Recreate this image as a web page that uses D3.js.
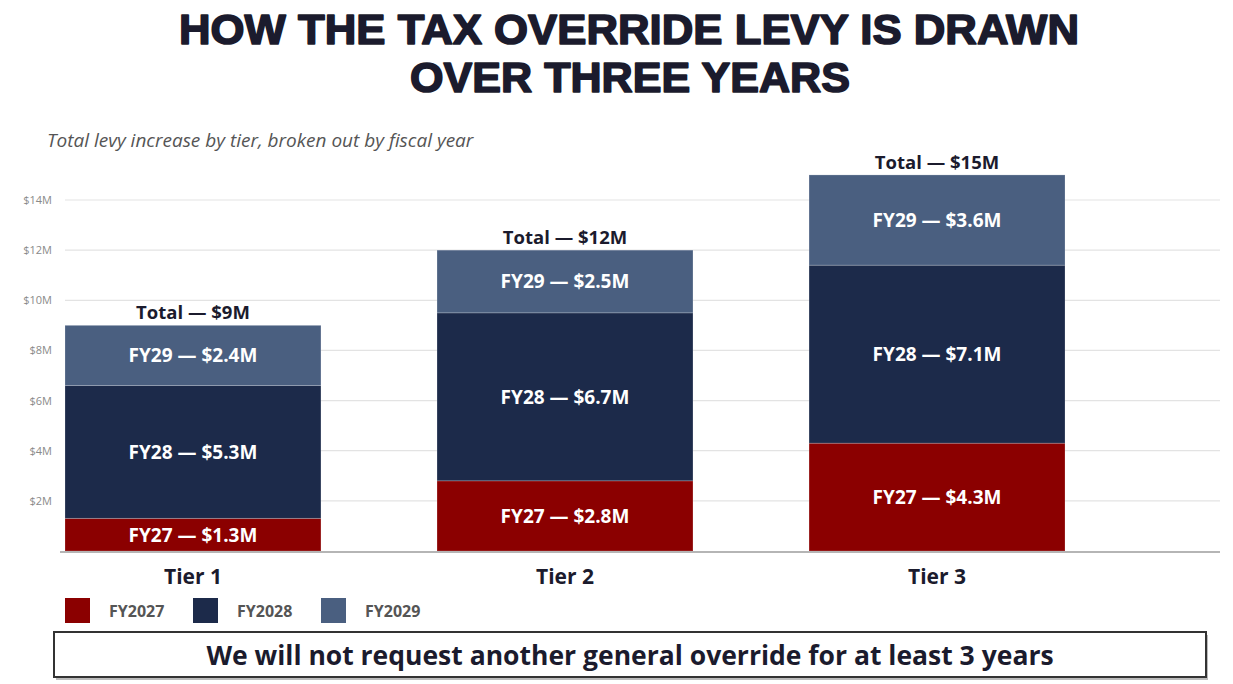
<!DOCTYPE html>
<html>
<head>
<meta charset="utf-8">
<script src="https://cdn.jsdelivr.net/npm/d3@7"></script>
<style>
  body { margin: 0; background: #fff; }
  svg { display: block; }
</style>
</head>
<body>
<svg id="chart" width="1233" height="684"></svg>
<script>
// Chart data
const tiers = ['Tier 1', 'Tier 2', 'Tier 3'];
const years = ['FY2027', 'FY2028', 'FY2029'];
const shortYears = ['FY27', 'FY28', 'FY29'];
const fy2027 = [1.3, 2.8, 4.3];
const fy2028 = [5.3, 6.7, 7.1];
const fy2029 = [2.4, 2.5, 3.6];
const totals = [9, 12, 15];
const yTicks = [2, 4, 6, 8, 10, 12, 14];
const colors = ['#8b0000', '#1c2a4a', '#4a5f80'];

const svg = d3.select('#chart');
const font = '"Open Sans", "Noto Sans", sans-serif';

// Title (heavy, condensed look)
const title = svg.append('g')
  .style('font-family', '"Liberation Sans", Arial, sans-serif')
  .style('font-weight', 'bold')
  .style('font-size', '42px')
  .attr('fill', '#1b1b2d')
  .attr('stroke', '#1b1b2d')
  .attr('stroke-width', 1.6)
  .attr('stroke-linejoin', 'round')
  .attr('text-anchor', 'middle');
title.append('text').attr('x', 629).attr('y', 44)
  .attr('textLength', 900).attr('lengthAdjust', 'spacingAndGlyphs')
  .text('HOW THE TAX OVERRIDE LEVY IS DRAWN');
title.append('text').attr('x', 630).attr('y', 92)
  .attr('textLength', 440).attr('lengthAdjust', 'spacingAndGlyphs')
  .text('OVER THREE YEARS');

// Subtitle
svg.append('text')
  .attr('x', 47).attr('y', 147)
  .style('font-family', font)
  .style('font-style', 'italic')
  .style('font-size', '19px')
  .attr('fill', '#555')
  .text('Total levy increase by tier, broken out by fiscal year');

// Scales
const x = d3.scaleBand()
  .domain(tiers)
  .range([65, 1065])
  .paddingInner(0.312)
  .paddingOuter(0);

const y = d3.scaleLinear()
  .domain([0, 14])
  .range([551, 200]);

// Gridlines
svg.append('g')
  .selectAll('line')
  .data(yTicks)
  .join('line')
  .attr('x1', 65).attr('x2', 1220)
  .attr('y1', d => y(d)).attr('y2', d => y(d))
  .attr('stroke', '#e3e3e3')
  .attr('stroke-width', 1.2);

// Y axis labels
const yAxis = svg.append('g')
  .attr('transform', 'translate(56,0)')
  .call(d3.axisLeft(y).tickValues(yTicks).tickSize(0).tickPadding(4).tickFormat(d => '$' + d + 'M'));
yAxis.select('.domain').remove();
yAxis.selectAll('text')
  .style('font-family', font)
  .style('font-size', '11px')
  .attr('fill', '#8a8a8a');

// Stack the series
const rows = tiers.map((t, i) => ({ tier: t, FY2027: fy2027[i], FY2028: fy2028[i], FY2029: fy2029[i] }));
const stack = d3.stack().keys(years)(rows);

const layers = svg.append('g')
  .selectAll('g')
  .data(stack)
  .join('g')
  .attr('fill', (d, i) => colors[i]);

layers.selectAll('rect')
  .data(d => d)
  .join('rect')
  .attr('x', d => x(d.data.tier))
  .attr('width', x.bandwidth())
  .attr('y', d => y(d[1]))
  .attr('height', d => y(d[0]) - y(d[1]))
  .attr('stroke', 'rgba(255,255,255,0.2)')
  .attr('stroke-width', 1);

// Segment labels
stack.forEach((layer, i) => {
  svg.append('g')
    .selectAll('text')
    .data(layer)
    .join('text')
    .attr('x', d => x(d.data.tier) + x.bandwidth() / 2)
    .attr('y', d => (y(d[0]) + y(d[1])) / 2)
    .attr('dy', '0.36em')
    .attr('text-anchor', 'middle')
    .style('font-family', font)
    .style('font-weight', 'bold')
    .style('font-size', '19px')
    .attr('fill', '#fff')
    .text(d => shortYears[i] + ' \u2014 $' + d.data[years[i]].toFixed(1) + 'M');
});

// Totals
svg.append('g')
  .selectAll('text')
  .data(tiers)
  .join('text')
  .attr('x', d => x(d) + x.bandwidth() / 2)
  .attr('y', (d, i) => y(totals[i]) - 6)
  .attr('text-anchor', 'middle')
  .style('font-family', font)
  .style('font-weight', 'bold')
  .style('font-size', '18.5px')
  .attr('fill', '#1b1b2d')
  .text((d, i) => 'Total \u2014 $' + totals[i] + 'M');

// Baseline
svg.append('line')
  .attr('x1', 60).attr('x2', 1220)
  .attr('y1', y(0) + 1).attr('y2', y(0) + 1)
  .attr('stroke', '#b5b5b5')
  .attr('stroke-width', 2);

// X axis labels
const xAxis = svg.append('g')
  .attr('transform', `translate(0,${y(0)})`)
  .call(d3.axisBottom(x).tickSize(0).tickPadding(18));
xAxis.select('.domain').remove();
xAxis.selectAll('text')
  .style('font-family', font)
  .style('font-weight', 'bold')
  .style('font-size', '21px')
  .attr('fill', '#1b1b2d');

// Legend
const legend = svg.append('g')
  .selectAll('g')
  .data(years)
  .join('g')
  .attr('transform', (d, i) => `translate(${65 + i * 128},598)`);
legend.append('rect')
  .attr('width', 25).attr('height', 25)
  .attr('fill', (d, i) => colors[i]);
legend.append('text')
  .attr('x', 44).attr('y', 19)
  .style('font-family', font)
  .style('font-weight', 'bold')
  .style('font-size', '16px')
  .attr('fill', '#555')
  .text(d => d);

// Footer box with a soft shadow
svg.append('rect')
  .attr('x', 56).attr('y', 635)
  .attr('width', 1152).attr('height', 45)
  .attr('fill', '#bbb');
svg.append('rect')
  .attr('x', 54).attr('y', 632)
  .attr('width', 1152).attr('height', 45)
  .attr('fill', '#fff')
  .attr('stroke', '#333')
  .attr('stroke-width', 2);
svg.append('text')
  .attr('x', 630).attr('y', 665)
  .attr('text-anchor', 'middle')
  .style('font-family', font)
  .style('font-weight', 'bold')
  .style('font-size', '26.5px')
  .attr('fill', '#1b1b2d')
  .text('We will not request another general override for at least 3 years');
</script>
</body>
</html>
